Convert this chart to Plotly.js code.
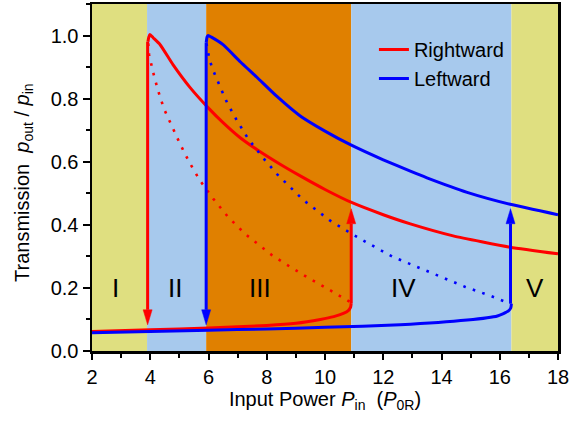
<!DOCTYPE html>
<html>
<head>
<meta charset="utf-8">
<script src="https://cdn.plot.ly/plotly-3.0.1.min.js"></script>
<style>html,body{margin:0;padding:0;background:#fff;}#chart{width:569px;height:421px;}</style>
</head>
<body>
<div id="chart"></div>
<script>
// ---- Data ----
const redUpperX = [3.92, 3.95, 3.99, 4.1, 4.34, 4.78, 5.37, 6.0, 6.5, 7.09, 7.67, 8.46, 9.15, 10.0, 10.93, 12.0, 12.93, 14.4, 16.36, 18];
const redUpperY = [0.98, 0.995, 1.003, 0.993, 0.971, 0.908, 0.835, 0.77, 0.724, 0.676, 0.638, 0.592, 0.555, 0.512, 0.47, 0.432, 0.403, 0.365, 0.329, 0.308];

const redDotX = [3.93, 3.96, 4.1, 4.27, 4.47, 4.75, 5.02, 5.33, 5.71, 6.16, 6.67, 7.26, 7.88, 8.19, 8.8, 9.42, 10.04, 10.66, 10.87];
const redDotY = [0.975, 0.94, 0.883, 0.825, 0.768, 0.711, 0.657, 0.6, 0.54, 0.483, 0.425, 0.371, 0.324, 0.303, 0.267, 0.232, 0.2, 0.165, 0.155];

const redLowerX = [2, 4, 6, 8, 9, 9.84, 10.3, 10.63, 10.8, 10.88, 10.9];
const redLowerY = [0.062, 0.067, 0.073, 0.081, 0.088, 0.1, 0.109, 0.119, 0.128, 0.139, 0.152];

const blueUpperX = [5.92, 5.95, 5.99, 6.1, 6.5, 7.09, 7.67, 8.36, 9.15, 10.0, 10.87, 12.0, 12.93, 13.5, 14.88, 16.36, 18];
const blueUpperY = [0.977, 0.995, 1.0, 0.995, 0.971, 0.917, 0.867, 0.806, 0.745, 0.697, 0.654, 0.606, 0.57, 0.549, 0.503, 0.465, 0.432];

const blueDotX = [5.93, 6.02, 6.12, 6.26, 6.37, 6.5, 6.64, 6.98, 7.36, 7.84, 8.36, 9.25, 10.18, 10.8, 11.45, 12.34, 13.89, 14.82, 15.68, 16.09, 16.3];
const blueDotY = [0.975, 0.93, 0.898, 0.87, 0.844, 0.816, 0.787, 0.73, 0.673, 0.616, 0.56, 0.479, 0.413, 0.378, 0.343, 0.298, 0.238, 0.203, 0.175, 0.159, 0.152];

const blueLowerX = [2, 6, 8, 10, 12.58, 14.88, 15.92, 16.3, 16.38, 16.4];
const blueLowerY = [0.058, 0.066, 0.07, 0.075, 0.083, 0.098, 0.111, 0.127, 0.137, 0.15];

// Jump arrows (x position, start value, end value)
const arrowX    = [3.91, 10.9, 5.92, 16.37];
const arrowFrom = [0.98, 0.152, 0.977, 0.15];
const arrowTo   = [0.083, 0.451, 0.083, 0.451];
const arrowSeries = ['Rightward', 'Rightward', 'Leftward', 'Leftward'];

// Background regions
const regionEdges  = [2, 3.89, 5.92, 10.9, 16.4, 18];
const regionLabels = ['I', 'II', 'III', 'IV', 'V'];
const regionLabelX = [2.79, 4.85, 7.77, 12.69, 17.2];
const regionLabelY = 0.2;

const xTitle = 'Input Power <i>P</i><sub>in</sub>&nbsp;&nbsp;(<i>P</i><sub>0R</sub>)';
const yTitle = 'Transmission&nbsp;&nbsp;<i>p</i><sub>out</sub> / <i>p</i><sub>in</sub>';

// ---- Styles ----
const colorOf = {Rightward: '#ff0000', Leftward: '#0000ff'};
const regionColors = ['#dfdf80', '#a7c9ed', '#e08000', '#a7c9ed', '#dfdf80'];

const W = 569, H = 421;
const margin = {l: 92, r: 11, t: 4, b: 70};
const xRange = [2, 18], yRange = [0, 1.1];
const plotW = W - margin.l - margin.r, plotH = H - margin.t - margin.b;
const xPerPx = (xRange[1] - xRange[0]) / plotW;
const yPerPx = (yRange[1] - yRange[0]) / plotH;

const FONT = 'Liberation Sans, Arial, Helvetica, sans-serif';
const solid = c => ({color: c, width: 3, shape: 'spline', smoothing: 0.5});
const dotted = c => ({color: c, width: 2.6, dash: '2.6px,7.4px'});

const traces = [
  {x: redUpperX, y: redUpperY, mode: 'lines', name: 'Rightward', line: solid(colorOf.Rightward), legendgroup: 'R'},
  {x: redLowerX, y: redLowerY, mode: 'lines', line: solid(colorOf.Rightward), showlegend: false, legendgroup: 'R'},
  {x: redDotX, y: redDotY, mode: 'lines', line: dotted(colorOf.Rightward), showlegend: false, legendgroup: 'R'},
  {x: blueUpperX, y: blueUpperY, mode: 'lines', name: 'Leftward', line: solid(colorOf.Leftward), legendgroup: 'L'},
  {x: blueLowerX, y: blueLowerY, mode: 'lines', line: solid(colorOf.Leftward), showlegend: false, legendgroup: 'L'},
  {x: blueDotX, y: blueDotY, mode: 'lines', line: dotted(colorOf.Leftward), showlegend: false, legendgroup: 'L'}
];

// arrows: shaft + filled head
const headLen = 15 * yPerPx, headHalf = 4.5 * xPerPx;
arrowX.forEach((ax, i) => {
  const c = colorOf[arrowSeries[i]];
  const dir = arrowTo[i] > arrowFrom[i] ? 1 : -1;
  const base = arrowTo[i] - dir * headLen;
  traces.push({x: [ax, ax], y: [arrowFrom[i], base], mode: 'lines', line: {color: c, width: 3}, showlegend: false, hoverinfo: 'skip'});
  traces.push({x: [ax - headHalf, ax + headHalf, ax, ax - headHalf], y: [base, base, arrowTo[i], base],
    mode: 'lines', fill: 'toself', fillcolor: c, line: {color: c, width: 0.5}, showlegend: false, hoverinfo: 'skip'});
});

const shapes = regionColors.map((c, i) => ({
  type: 'rect', xref: 'x', yref: 'paper', x0: regionEdges[i], x1: regionEdges[i + 1], y0: 0, y1: 1,
  fillcolor: c, line: {width: 0}, layer: 'below'
}));

const annotations = regionLabels.map((t, i) => ({
  x: regionLabelX[i], y: regionLabelY, xref: 'x', yref: 'y', text: t, showarrow: false,
  font: {family: FONT, size: 26, color: '#000'}
}));
// y-axis title placed as rotated annotation (reference title sits slightly low)
annotations.push({
  xref: 'paper', yref: 'paper', x: (24 - margin.l) / plotW, y: 1 - (183 - margin.t) / plotH,
  xanchor: 'center', yanchor: 'middle', textangle: -90, showarrow: false, text: yTitle,
  font: {family: FONT, size: 20, color: '#000'}
});

const axisCommon = {
  showline: true, linecolor: '#000', linewidth: 2.5, mirror: true,
  ticks: 'outside', tickcolor: '#000', tickwidth: 2, showgrid: false, zeroline: false,
  ticklabeloverflow: 'allow',
  tickfont: {family: FONT, size: 20, color: '#000'}
};

const layout = {
  width: W, height: H, margin: margin,
  paper_bgcolor: '#fff', plot_bgcolor: '#fff',
  font: {family: FONT, color: '#000'},
  xaxis: Object.assign({}, axisCommon, {
    range: xRange, dtick: 2, tick0: 2, ticklen: 6,
    minor: {dtick: 1, ticks: 'outside', ticklen: 4, tickcolor: '#000', tickwidth: 2},
    title: {text: xTitle, font: {family: FONT, size: 20, color: '#000'}, standoff: 6}
  }),
  yaxis: Object.assign({}, axisCommon, {
    range: yRange, dtick: 0.2, tick0: 0, ticklen: 7, tickformat: '.1f',
    minor: {dtick: 0.1, ticks: 'outside', ticklen: 4, tickcolor: '#000', tickwidth: 2}
  }),
  legend: {x: 0.605, y: 0.925, xanchor: 'left', yanchor: 'top', bgcolor: 'rgba(0,0,0,0)', borderwidth: 0,
    font: {family: FONT, size: 20, color: '#000'}, tracegroupgap: 0},
  shapes: shapes,
  annotations: annotations,
  showlegend: true
};

Plotly.newPlot('chart', traces, layout, {displayModeBar: false, staticPlot: true});
</script>
</body>
</html>
